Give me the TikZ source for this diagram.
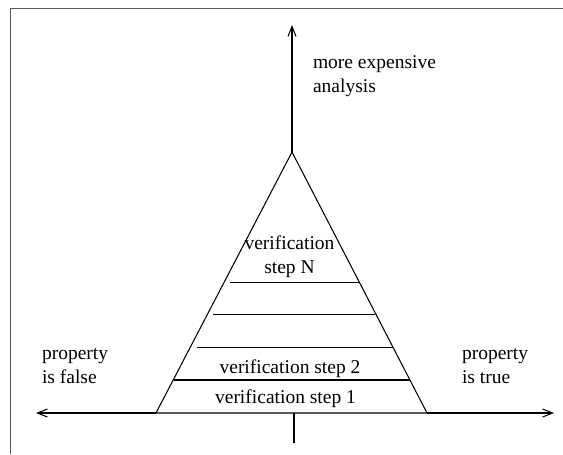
\documentclass[tikz,border=0pt]{standalone}
\usepackage{fontspec}
\setmainfont{Liberation Serif}
\usetikzlibrary{arrows.meta}

\begin{document}
\begin{tikzpicture}[line width=0.6pt, >={Straight Barb[length=2mm,width=1.6mm]},
        lbl/.style = {inner sep=0pt, align=left, font=\fontsize{11.1}{13.9}\selectfont},
        mid/.style = {inner sep=0pt, align=center, font=\fontsize{11.1}{13.9}\selectfont},
        frame/.style = {draw=black!65, line width=1.1pt}]
        \useasboundingbox (0,0) rectangle (11.26,9.08);
        \draw[frame] (0.21,0) -- (0.21,8.91) -- (11.26,8.91);
        % pyramid corners and axis ends
        \coordinate (apex)  at (5.84,6.04);
        \coordinate (bl)    at (3.12,0.82);
        \coordinate (br)    at (8.54,0.82);
        \coordinate (up)    at (5.84,8.58);
        \coordinate (west)  at (0.72,0.82);
        \coordinate (east)  at (11.08,0.82);
        \coordinate (foot)  at (5.88,0.22);
        \coordinate (hub)   at (5.88,0.82);
        \draw (bl) -- (apex) -- (br) -- cycle;
        \draw[->] (apex) -- (up);
        \draw[->] (bl) -- (west);
        \draw[->] (br) -- (east);
        \draw (hub) -- (foot);
        % rungs
        \draw (4.60,3.43) -- (7.18,3.43);
        \draw (4.26,2.79) -- (7.50,2.79);
        \draw (3.93,2.13) -- (7.85,2.13);
        \draw (3.47,1.48) -- (8.19,1.48);
        % labels (base = last line)
        \node[lbl, anchor=base west] (cost)  at (6.25,7.23) {more expensive\\analysis};
        \node[mid, anchor=base]      (stepN) at (5.79,3.61) {verification\\step N};
        \node[mid, anchor=base]      (step2) at (5.80,1.61) {verification step 2};
        \node[mid, anchor=base]      (step1) at (5.71,1.02) {verification step 1};
        \node[lbl, anchor=base west] (no)    at (0.83,1.41) {property\\is false};
        \node[lbl, anchor=base west] (yes)   at (9.23,1.41) {property\\is true};
\end{tikzpicture}
\end{document}
